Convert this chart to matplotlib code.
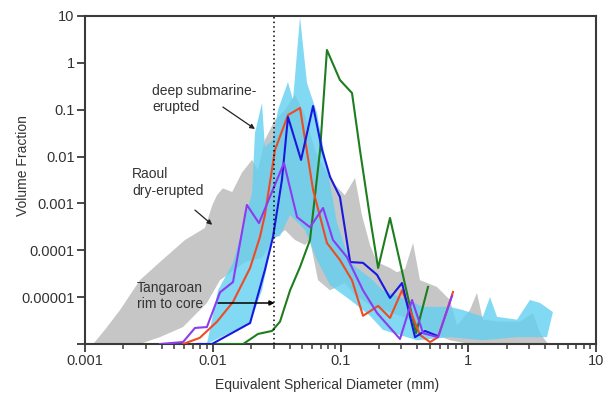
import matplotlib.pyplot as plt
from matplotlib.ticker import LogLocator, NullFormatter, NullLocator

plt.rcParams['font.family'] = ['Liberation Sans', 'DejaVu Sans']

# grey envelope: Raoul dry-erupted (upper edge, then lower edge)
grey_up_x = [0.00116, 0.00143, 0.00188, 0.00269, 0.00386, 0.00607, 0.00869, 0.00995, 0.0108,
             0.0120, 0.0142, 0.0169, 0.0203, 0.0226, 0.0256, 0.0307, 0.0368, 0.044, 0.0527,
             0.0631, 0.0757, 0.0906, 0.108, 0.130, 0.147, 0.170, 0.193, 0.244, 0.277, 0.320,
             0.370, 0.419, 0.569, 0.719, 0.817, 1.03, 1.17, 1.30, 1.77, 2.54, 3.21, 3.65, 4.21]
grey_up_y = [1e-6, 2.0e-6, 5.3e-6, 2.3e-5, 5.6e-5, 1.66e-4, 3.0e-4, 9.3e-4, 1.5e-3,
             2.1e-3, 1.75e-3, 4.5e-3, 8.5e-3, 5.2e-3, 0.0226, 0.06, 0.099, 0.21, 0.077,
             0.0138, 0.0052, 0.0025, 0.0015, 0.0035, 5.7e-4, 1.3e-4, 5.6e-5, 4.2e-5, 3.4e-5, 4e-5,
             1.43e-4, 2.3e-5, 1.65e-5, 8.7e-6, 2.5e-6, 5.3e-6, 1.23e-5, 3.3e-6, 3.0e-6, 3.0e-6,
             4.6e-6, 1.7e-6, 1e-6]
grey_lo_x = [4.21, 1.03, 0.719, 0.502, 0.350, 0.244, 0.170, 0.130, 0.108, 0.0828, 0.0667,
             0.0577, 0.0527, 0.044, 0.0368, 0.0296, 0.0243, 0.0179, 0.0114, 0.0090, 0.00585,
             0.00386, 0.00269, 0.00116]
grey_lo_y = [1e-6, 1e-6, 1.2e-6, 1.8e-6, 3.3e-6, 4.8e-6, 6.8e-6, 1.1e-5, 2.0e-5, 1.4e-5, 2.3e-5,
             1.66e-4, 1.3e-4, 1.66e-4, 2.7e-4, 1.66e-4, 6.9e-5, 5.6e-5, 2.3e-5, 7.5e-6, 2.3e-6,
             1.4e-6, 1e-6, 1e-6]

# cyan envelope: deep submarine-erupted
cyan_up_x = [0.0090, 0.0110, 0.0144, 0.0169, 0.0203, 0.0214, 0.0243, 0.0256, 0.0296, 0.0324,
             0.0388, 0.0425, 0.0482, 0.0547, 0.0655, 0.0783, 0.0873, 0.094, 0.119, 0.170,
             0.215, 0.332, 0.443, 0.719, 0.91, 1.30, 1.48, 1.68, 2.41, 3.04, 3.65, 4.60]
cyan_up_y = [1e-6, 1.4e-5, 5.4e-5, 2.7e-4, 1.67e-3, 0.032, 0.139, 0.016, 0.0226, 0.0986,
             0.39, 0.161, 9.5, 0.37, 0.085, 0.006, 0.00118, 3.8e-4, 5.4e-5, 2.6e-5,
             1.4e-5, 8.7e-6, 6.2e-6, 6.2e-6, 5.3e-6, 3.8e-6, 1.0e-5, 3.8e-6, 3.3e-6, 8.7e-6,
             7.5e-6, 4.8e-6]
cyan_lo_x = [4.13, 2.41, 1.30, 0.719, 0.397, 0.215, 0.170, 0.119, 0.0828, 0.0655, 0.0527,
             0.0403, 0.0336, 0.0296, 0.0243, 0.0196, 0.0090]
cyan_lo_y = [1.4e-6, 1.4e-6, 1.2e-6, 1.4e-6, 1.2e-6, 2.0e-6, 4e-6, 8.7e-6, 1.8e-5, 6.2e-5, 2.7e-4,
             5.7e-4, 2e-4, 1.9e-4, 1.4e-5, 2.8e-6, 1e-6]

# Tangaroan rim to core samples
green_x = [0.0090, 0.0173, 0.0226, 0.0291, 0.0336, 0.0403, 0.0482, 0.0577, 0.0692, 0.0783,
           0.099, 0.123, 0.142, 0.170, 0.197, 0.244, 0.390, 0.484]
green_y = [1e-6, 1e-6, 1.64e-6, 1.9e-6, 3.0e-6, 1.4e-5, 4.4e-5, 1.66e-4, 0.0138, 1.88,
           0.43, 0.227, 0.0138, 5.1e-4, 4.2e-5, 4.9e-4, 1.7e-6, 1.65e-5]

red_x = [0.00585, 0.0079, 0.0108, 0.0144, 0.0196, 0.0234, 0.0256, 0.0307, 0.0388, 0.0482,
         0.061, 0.0783, 0.099, 0.123, 0.150, 0.197, 0.244, 0.303, 0.419, 0.502, 0.580, 0.760]
red_y = [1.0e-6, 1.35e-6, 3.0e-6, 7.9e-6, 4.2e-5, 1.92e-4, 5.7e-4, 0.0138, 0.077, 0.109,
         1.94e-3, 1.43e-4, 6.2e-5, 2.3e-5, 4.0e-6, 6.5e-6, 3.6e-6, 1.4e-5, 1.56e-6, 1.1e-6,
         1.4e-6, 1.29e-5]

blue_x = [0.00753, 0.00986, 0.0196, 0.0256, 0.0296, 0.0348, 0.0388, 0.0491, 0.061, 0.0717,
          0.0828, 0.099, 0.119, 0.150, 0.193, 0.244, 0.303, 0.383, 0.458, 0.569]
blue_y = [1.0e-6, 1.0e-6, 2.8e-6, 3.8e-5, 1.9e-4, 3.2e-3, 0.07, 8.5e-3, 0.12, 0.0138,
          3.7e-3, 1.37e-3, 5.6e-5, 5.4e-5, 3.0e-5, 9.6e-6, 2.0e-5, 1.4e-6, 1.9e-6, 1.5e-6]

purple_x = [0.00386, 0.00585, 0.00726, 0.0090, 0.0114, 0.0144, 0.0185, 0.0230, 0.0361, 0.0457,
            0.0577, 0.073, 0.0873, 0.112, 0.150, 0.193, 0.292, 0.363, 0.443, 0.580, 0.746]
purple_y = [1.0e-6, 1.1e-6, 2.2e-6, 2.3e-6, 1.27e-5, 2.1e-5, 9.3e-4, 3.8e-4, 7.3e-3, 5.1e-4,
            3.1e-4, 8.0e-4, 1.66e-4, 7.2e-5, 1.4e-5, 4.6e-6, 1.28e-6, 8.7e-6, 1.7e-6, 1.4e-6,
            1.06e-5]

cutoff = 0.03

x_ticks = [0.001, 0.01, 0.1, 1, 10]
x_labels = ['0.001', '0.01', '0.1', '1', '10']
y_ticks = [1e-6, 1e-5, 1e-4, 1e-3, 1e-2, 1e-1, 1, 10]
y_labels = ['', '0.00001', '0.0001', '0.001', '0.01', '0.1', '1', '10']

txt = '#333333'
fig = plt.figure(figsize=(6.08, 3.94), dpi=100)
ax = fig.add_axes([0.1398, 0.1269, 0.8405, 0.8325])

ax.fill(grey_up_x + grey_lo_x, grey_up_y + grey_lo_y, color='#c6c6c6', lw=0, zorder=1)
ax.fill(cyan_up_x + cyan_lo_x, cyan_up_y + cyan_lo_y, color='#62d0f0', alpha=0.8, lw=0, zorder=2)

lw = 1.5
ax.plot(green_x, green_y, color='#1e7d1e', lw=lw, zorder=3)
ax.plot(red_x, red_y, color='#f04a24', lw=lw, zorder=4)
ax.plot(blue_x, blue_y, color='#1818e0', lw=lw, zorder=5)
ax.plot(purple_x, purple_y, color='#8c3cf0', lw=lw, zorder=6)

ax.axvline(cutoff, color='black', ls=(0, (1, 2)), lw=1.1, zorder=7)

ax.set_xscale('log')
ax.set_yscale('log')
ax.set_xlim(0.001, 10)
ax.set_ylim(1e-6, 10)

ax.set_xticks(x_ticks)
ax.set_xticklabels(x_labels)
ax.xaxis.set_minor_locator(LogLocator(base=10, subs=range(2, 10)))
ax.xaxis.set_minor_formatter(NullFormatter())
ax.set_yticks(y_ticks)
ax.set_yticklabels(y_labels)
ax.yaxis.set_minor_locator(NullLocator())

ax.tick_params(which='major', direction='out', length=6, width=1.3, color='#3a3a3a',
               labelsize=10.5, labelcolor=txt, pad=1.5)
ax.tick_params(which='minor', direction='out', length=3.5, width=1.1, color='#3a3a3a')
for s in ax.spines.values():
    s.set_color('#3a3a3a')
    s.set_linewidth(1.5)

fig.text(0.038, 0.579, 'Volume Fraction', rotation=90, ha='center', va='center',
         fontsize=10, color=txt)
fig.text(0.538, 0.023, 'Equivalent Spherical Diameter (mm)', ha='center', va='center',
         fontsize=10, color=txt)

ax.text(0.00334, 0.169, 'deep submarine-\nerupted', ha='left', va='center',
        fontsize=10, color=txt, zorder=8)
ax.text(0.00233, 0.0028, 'Raoul\ndry-erupted', ha='left', va='center',
        fontsize=10, color=txt, zorder=8)
ax.text(0.00255, 1.06e-5, 'Tangaroan\nrim to core', ha='left', va='center',
        fontsize=10, color=txt, zorder=8)

arrow = dict(arrowstyle='-|>', lw=0.9, color='#222222', mutation_scale=7,
             shrinkA=0, shrinkB=0)
ax.annotate('', xy=(0.0214, 0.0388), xytext=(0.012, 0.114), arrowprops=arrow, zorder=8)
ax.annotate('', xy=(0.0099, 3.5e-4), xytext=(0.00726, 7.2e-4), arrowprops=arrow, zorder=8)
ax.annotate('', xy=(0.0305, 7.5e-6), xytext=(0.0110, 7.5e-6),
            arrowprops=dict(arrow, lw=1.1, color='black'), zorder=8)

fig.savefig('out.png', dpi=100)
